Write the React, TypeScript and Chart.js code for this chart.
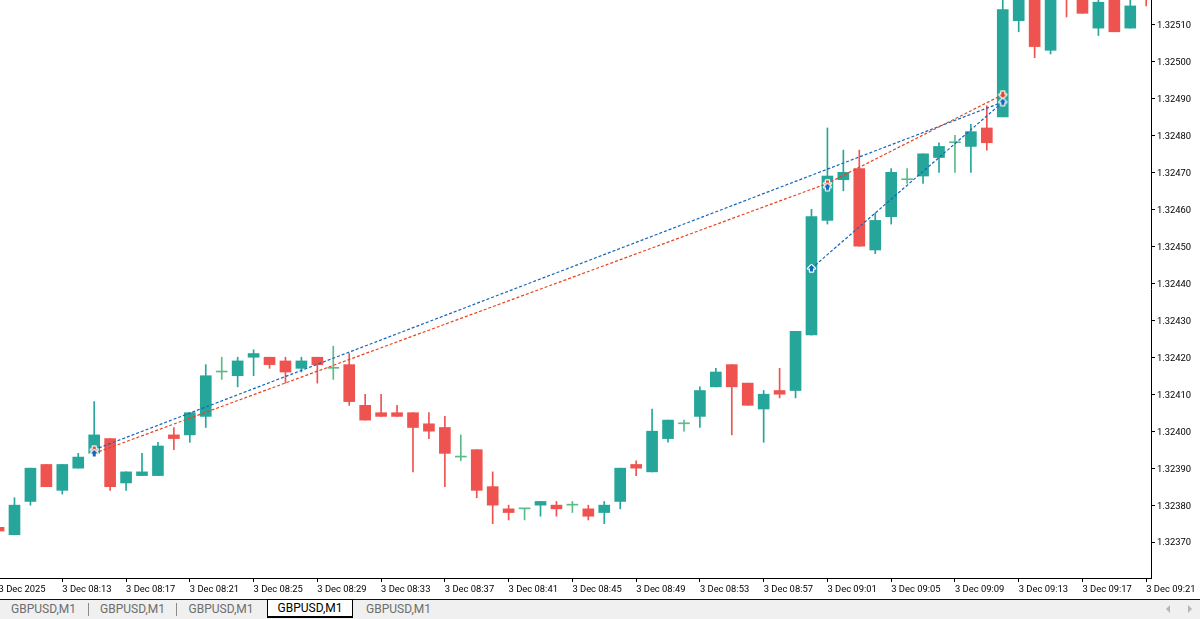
import { useEffect, useRef } from 'react';
import { Chart, registerables } from 'chart.js';

Chart.register(...registerables);

// prices are kept as points above 1.32370, one entry per M1 bar starting 08:09
const BASE_PRICE = 1.3237;
const POINT = 0.00001;

const opens = [4, 2, 11, 21, 14, 20, 24, 28, 16, 18, 18, 29, 29, 34, 46, 45, 50, 50, 49, 47, 50, 47, 48, 37, 35, 35, 35, 32, 31, 23, 25, 15, 9, 9, 10, 10, 10, 9, 8, 11, 21, 19, 28, 32, 34, 42, 48, 43, 36, 41, 41, 56, 87, 98, 101, 79, 88, 98, 99, 104, 108, 107, 112, 115, 141, 150, 133, 150, 150, 139, 148, 139, 148];
const highs = [4, 12, 20, 21, 21, 24, 38, 28, 19, 24, 27, 31, 35, 48, 50, 50, 52, 50, 50, 50, 50, 53, 51, 40, 40, 37, 35, 35, 34, 29, 25, 19, 10, 9, 11, 11, 11, 10, 11, 20, 22, 36, 33, 33, 42, 47, 48, 43, 41, 47, 57, 90, 112, 106, 106, 89, 101, 101, 105, 108, 110, 113, 118, 148, 152, 150, 152, 152, 150, 148, 148, 148, 149];
const lows = [3, 2, 10, 15, 13, 20, 24, 14, 14, 18, 18, 25, 27, 31, 44, 42, 45, 47, 43, 46, 43, 44, 37, 33, 34, 34, 19, 28, 15, 22, 12, 5, 6, 6, 7, 7, 8, 6, 5, 9, 18, 19, 27, 30, 31, 42, 29, 37, 27, 39, 39, 56, 86, 95, 80, 78, 86, 97, 97, 100, 100, 100, 106, 115, 138, 131, 132, 142, 143, 137, 138, 139, 145];
const closes = [3, 10, 20, 15, 21, 23, 29, 15, 19, 19, 26, 28, 35, 45, 46, 49, 51, 48, 46, 49, 48, 47, 38, 33, 34, 34, 31, 30, 24, 23, 14, 10, 8, 9, 11, 9, 10, 7, 10, 20, 20, 30, 33, 32, 41, 46, 42, 37, 40, 40, 57, 88, 99, 100, 80, 87, 100, 98, 105, 107, 108, 111, 108, 144, 150, 134, 150, 149, 143, 146, 138, 145, 147];

const timeLabels = ['3 Dec 2025', '3 Dec 08:13', '3 Dec 08:17', '3 Dec 08:21', '3 Dec 08:25', '3 Dec 08:29', '3 Dec 08:33', '3 Dec 08:37', '3 Dec 08:41', '3 Dec 08:45', '3 Dec 08:49', '3 Dec 08:53', '3 Dec 08:57', '3 Dec 09:01', '3 Dec 09:05', '3 Dec 09:09', '3 Dec 09:13', '3 Dec 09:17', '3 Dec 09:21'];
const tabLabels = ['GBPUSD,M1', 'GBPUSD,M1', 'GBPUSD,M1', 'GBPUSD,M1', 'GBPUSD,M1'];

// trade lines: bar index and price of each end
const upperBlueLine = [{ x: 6, y: 1.32395 }, { x: 63, y: 1.32489 }];
const lowerBlueLine = [{ x: 51, y: 1.32444 }, { x: 63, y: 1.32489 }];
const redLine = [{ x: 6, y: 1.32394 }, { x: 52, y: 1.32467 }, { x: 63, y: 1.32491 }];
const buyMarks = [{ x: 6, y: 1.32394 }, { x: 52, y: 1.32466 }, { x: 51, y: 1.32444 }, { x: 63, y: 1.32489 }];
const sellMarks = [{ x: 6, y: 1.32395 }, { x: 52, y: 1.32467 }, { x: 63, y: 1.32491 }];

const UP = '#26a69a';
const DOWN = '#ef5350';
const DOJI = '#5dbb8a';
const BLUE = '#1565b8';
const RED = '#e8431f';
const AXIS_FONT = { family: 'Roboto, sans-serif', size: 9.4 };

const toPrice = (p: number) => BASE_PRICE + p * POINT;
const barColor = (i: number) => (closes[i] > opens[i] ? UP : closes[i] < opens[i] ? DOWN : DOJI);

// small arrow with a white outline, as the terminal draws its deal marks
function arrowIcon(color: string, up: boolean) {
  const c = document.createElement('canvas');
  c.width = 11;
  c.height = 11;
  const ctx = c.getContext('2d')!;
  ctx.translate(5.5, 5.5);
  if (!up) ctx.rotate(Math.PI);
  ctx.beginPath();
  ctx.moveTo(0, -3.5);
  ctx.lineTo(3.5, 0);
  ctx.lineTo(1.5, 0);
  ctx.lineTo(1.5, 3);
  ctx.lineTo(-1.5, 3);
  ctx.lineTo(-1.5, 0);
  ctx.lineTo(-3.5, 0);
  ctx.closePath();
  ctx.strokeStyle = '#ffffff';
  ctx.lineWidth = 2.4;
  ctx.lineJoin = 'round';
  ctx.stroke();
  ctx.fillStyle = color;
  ctx.fill();
  return c;
}

export default function App() {
  const canvasRef = useRef<HTMLCanvasElement>(null);

  useEffect(() => {
    if (!canvasRef.current) return;

    const tradeLine = (data: { x: number; y: number }[], color: string) => ({
      type: 'line',
      data,
      borderColor: color,
      borderWidth: 1.2,
      borderDash: [3, 2],
      pointRadius: 0,
      order: 1,
    });
    const marks = (data: { x: number; y: number }[], icon: HTMLCanvasElement) => ({
      type: 'line',
      data,
      showLine: false,
      pointStyle: icon,
      pointRadius: 5,
      order: 0,
    });

    const chart = new Chart(canvasRef.current, {
      type: 'bar',
      data: {
        datasets: [
          // wicks
          {
            data: opens.map((_, i) => ({ x: i, y: [toPrice(lows[i]), toPrice(highs[i])] })),
            backgroundColor: opens.map((_, i) => barColor(i)),
            barThickness: 1,
            grouped: false,
            order: 3,
          },
          // bodies
          {
            data: opens.map((_, i) => ({ x: i, y: [toPrice(opens[i]), toPrice(closes[i])] })),
            backgroundColor: opens.map((_, i) => barColor(i)),
            barThickness: 11,
            minBarLength: 1,
            grouped: false,
            order: 2,
          },
          tradeLine(upperBlueLine, BLUE),
          tradeLine(lowerBlueLine, BLUE),
          tradeLine(redLine, RED),
          marks(buyMarks, arrowIcon(BLUE, true)),
          marks(sellMarks, arrowIcon(RED, false)),
        ],
      } as any,
      options: {
        responsive: true,
        maintainAspectRatio: false,
        animation: false,
        layout: { padding: 0, autoPadding: false },
        plugins: { legend: { display: false }, tooltip: { enabled: false } },
        scales: {
          x: {
            type: 'linear',
            offset: false,
            min: -0.16,
            max: 72.3,
            afterFit: (scale: any) => {
              scale.height = 20;
              scale.paddingLeft = 0;
              scale.paddingRight = 0;
            },
            border: { display: true, color: '#000000', width: 1 },
            grid: { offset: false, drawOnChartArea: false, color: '#000000', tickLength: 4 },
            ticks: {
              stepSize: 4,
              includeBounds: false,
              autoSkip: false,
              maxRotation: 0,
              align: 'start',
              padding: 2,
              color: '#000000',
              font: AXIS_FONT,
              callback: (v: any) => timeLabels[Math.round(v / 4)],
            },
          },
          y: {
            type: 'linear',
            position: 'right',
            min: 1.323603,
            max: 1.325166,
            afterFit: (scale: any) => {
              scale.width = 49;
              scale.paddingTop = 0;
              scale.paddingBottom = 0;
            },
            border: { display: true, color: '#000000', width: 1 },
            grid: { drawOnChartArea: false, color: '#000000', tickLength: 4 },
            ticks: {
              stepSize: 0.0001,
              includeBounds: false,
              padding: 2,
              labelOffset: 1,
              color: '#000000',
              font: AXIS_FONT,
              callback: (v: any) => Number(v).toFixed(5),
            },
          },
        },
      } as any,
    });

    return () => chart.destroy();
  }, []);

  const tabLefts = [0, 89, 177, 267, 355];
  const tabWidths = [87, 87, 88, 86, 87];
  const separatorLefts = [88, 176];

  return (
    <div style={{ position: 'absolute', left: 0, top: 0, width: 1200, height: 619, overflow: 'hidden', background: '#fff' }}>
      <div style={{ position: 'absolute', left: -4, top: 0, width: 1204, height: 598 }}>
        <canvas ref={canvasRef}></canvas>
      </div>
      <div style={{ position: 'absolute', left: 0, top: 599, width: 1200, height: 20, background: '#f0f0f0', borderTop: '1px solid #111', boxSizing: 'border-box' }}>
        {tabLabels.map((t, i) => {
          const active = i === 3;
          return (
            <div
              key={i}
              style={{
                position: 'absolute',
                left: tabLefts[i],
                width: tabWidths[i],
                top: -1,
                height: 19,
                boxSizing: 'border-box',
                textAlign: 'center',
                font: '12px Roboto, sans-serif',
                lineHeight: active ? '17px' : '20px',
                color: active ? '#000' : '#6d6d6d',
                background: active ? '#fff' : 'transparent',
                border: active ? '1px solid #000' : 'none',
                borderBottomWidth: active ? 2 : 0,
              }}
            >
              {t}
            </div>
          );
        })}
        {separatorLefts.map((x) => (
          <span key={x} style={{ position: 'absolute', left: x, top: 3, width: 1, height: 13, background: '#8a8a8a' }} />
        ))}
        <span style={{ position: 'absolute', left: 1166, top: 5, borderTop: '4px solid transparent', borderBottom: '4px solid transparent', borderRight: '4px solid #b5b5b5' }} />
        <span style={{ position: 'absolute', left: 1188, top: 5, borderTop: '4px solid transparent', borderBottom: '4px solid transparent', borderLeft: '4px solid #b5b5b5' }} />
      </div>
    </div>
  );
}
